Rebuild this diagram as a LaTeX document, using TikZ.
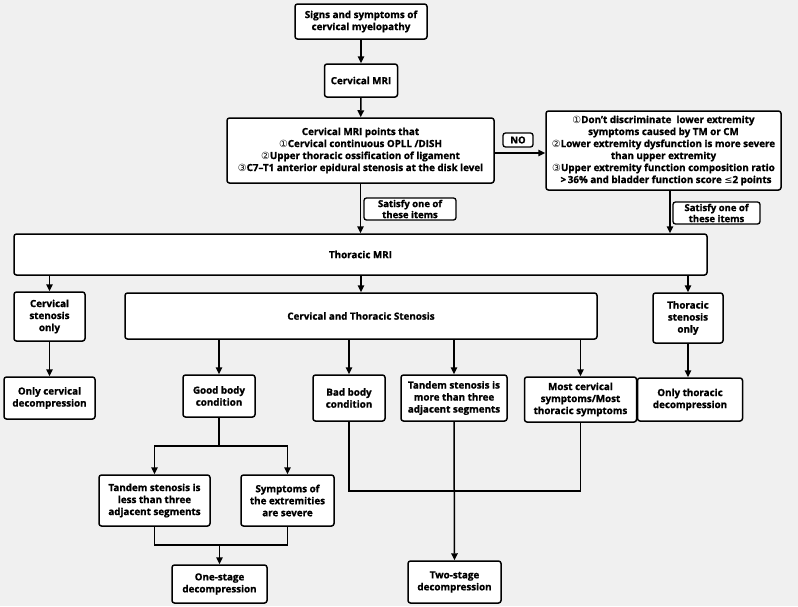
\documentclass[tikz,border=0pt]{standalone}
\usepackage{fontspec}
\setmainfont{Open Sans}[BoldFeatures={FakeBold=1.2}]
\newfontfamily\circfont{DejaVu Sans}[BoldFont={DejaVu Sans}]
\usetikzlibrary{arrows.meta}
\newcommand{\cn}[1]{{\circfont #1}}

\begin{document}
\begin{tikzpicture}[
  x=1pt, y=-1pt,
  box/.style={draw=black, line width=1.5pt, rounded corners=2.5pt, fill=white,
    align=center, inner sep=1pt, font=\bfseries\fontsize{9.8}{12}\selectfont},
  lab/.style={box, line width=1.3pt, font=\bfseries\fontsize{9.5}{11}\selectfont},
  arr/.style={line width=1.5pt, -{Triangle[length=7pt,width=6.5pt]}},
  ln/.style={line width=1.5pt}
]
% background and frame of the page
\fill[black!6] (0,0) rectangle (798,606);

% top of the chart
\node[box, minimum width=132, minimum height=35] (signs) at (361,21.5) {Signs and symptoms of\\cervical myelopathy};
\node[box, minimum width=73, minimum height=33] (cmri) at (361,80.5) {Cervical MRI};
\node[box, minimum width=267, minimum height=65] (points) at (360.5,150.5)
  {Cervical MRI points that\\\cn{①}Cervical continuous OPLL /DISH\\\cn{②}Upper thoracic ossification of ligament\\\cn{③}C7--T1 anterior epidural stenosis at the disk level};
\node[box, minimum width=235, minimum height=79] (crit) at (663.5,150.5)
  {\cn{①}Don't discriminate\ \ lower extremity\\symptoms caused by TM or CM\\\cn{②}Lower extremity dysfunction is more severe\\than upper extremity\\\cn{③}Upper extremity function composition ratio\\\ \ {>}\,36\% and bladder function score \cn{≤}2 points};
\node[lab, minimum width=30, minimum height=14] (no) at (518,140) {NO};
\node[lab, minimum width=92, minimum height=22] (sat1) at (410,209) {Satisfy one of\\these items};
\node[lab, minimum width=87, minimum height=22] (sat2) at (716.5,213) {Satisfy one of\\these items};

% thoracic MRI and the three results
\node[box, minimum width=693, minimum height=41] (thor) at (360.5,254.5) {Thoracic MRI};
\node[box, minimum width=71, minimum height=49] (cso) at (49.5,316.5) {Cervical\\stenosis\\only};
\node[box, minimum width=472, minimum height=46] (cts) at (361,316) {Cervical and Thoracic Stenosis};
\node[box, minimum width=70, minimum height=50] (tso) at (688,318) {Thoracic\\stenosis\\only};

% third row
\node[box, minimum width=91, minimum height=42] (ocd) at (49.5,398) {Only cervical\\decompression};
\node[box, minimum width=72, minimum height=42] (good) at (219,396) {Good body\\condition};
\node[box, minimum width=72, minimum height=46] (bad) at (349,398) {Bad body\\condition};
\node[box, minimum width=106, minimum height=46] (tmore) at (454,398) {Tandem stenosis is\\more than three\\adjacent segments};
\node[box, minimum width=112, minimum height=45] (most) at (580.5,399.5) {Most cervical\\symptoms/Most\\thoracic symptoms};
\node[box, minimum width=105, minimum height=43] (otd) at (690,399.5) {Only thoracic\\decompression};

% bottom
\node[box, minimum width=111, minimum height=51] (tless) at (154.5,500.5) {Tandem stenosis is\\less than three\\adjacent segments};
\node[box, minimum width=93, minimum height=51] (sympt) at (287.5,500.5) {Symptoms of\\the extremities\\are severe};
\node[box, minimum width=95, minimum height=38] (one) at (219.5,584) {One-stage\\decompression};
\node[box, minimum width=93, minimum height=42] (two) at (454.5,582) {Two-stage\\decompression};

\coordinate (split) at (219,446);
\coordinate (join1) at (219.5,545);
\coordinate (join2) at (454.5,491);

\draw[arr] (signs) -- (cmri);
\draw[arr] (cmri) -- (points);
\draw[arr] (points.east |- 0,153) -- (crit.west |- 0,153);
\draw[arr] (points.south) -- (points.south |- thor.north);
\draw[arr] ([xshift=6.5pt]crit.south) -- ([xshift=6.5pt]crit.south |- thor.north);
\draw[arr] (cso.north |- thor.south) -- (cso.north);
\draw[arr] (cts.north |- thor.south) -- (cts.north);
\draw[arr] (tso.north |- thor.south) -- (tso.north);
\draw[arr] (cso) -- (ocd);
\draw[arr] (tso.south) -- (tso.south |- otd.north);
\draw[arr] (good.north |- cts.south) -- (good.north);
\draw[arr] (bad.north |- cts.south) -- (bad.north);
\draw[arr] (tmore.north |- cts.south) -- (tmore.north);
\draw[arr] (most.north |- cts.south) -- (most.north);
\draw[ln] (good.south) -- (split);
\draw[arr] (split) -| (tless.north);
\draw[arr] (split) -| (sympt.north);
\draw[ln] (tless.south) |- (join1) -| (sympt.south);
\draw[arr] (join1) -- (one.north);
\draw[ln] (bad.south) |- (join2) -| (most.south);
\draw[arr] (tmore.south) -- (two.north);
\end{tikzpicture}
\end{document}
